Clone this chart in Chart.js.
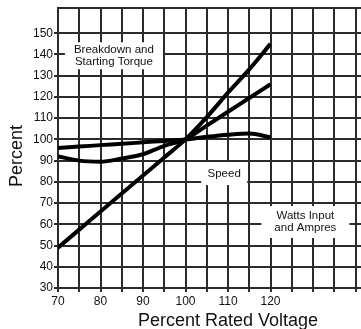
<!DOCTYPE html>
<html>
<head>
<meta charset="utf-8">
<script src="https://cdn.jsdelivr.net/npm/chart.js@4/dist/chart.umd.min.js"></script>
<style>
  html, body { margin: 0; padding: 0; overflow: hidden; background: #fff; }
  canvas { display: block; }
</style>
</head>
<body>
<canvas id="motorChart" width="400" height="335"></canvas>
<script>
// percent rated voltage (x) and each curve's percent value
const voltage = [70, 75, 80, 85, 90, 95, 100, 105, 110, 115, 120];
const torquePct = [49, 57.5, 66, 74.5, 83, 91.5, 100, 110.5, 122, 133, 145];
const wattsAmpsPct = [92, 90, 89.5, 91, 93, 97, 100, 106.5, 113, 119.5, 126];
const speedPct = [96, 96.6, 97.3, 97.9, 98.6, 99.3, 100, 101.2, 102.2, 102.8, 101];

const xGridLines = [70, 75, 80, 85, 90, 95, 100, 105, 110, 115, 120, 125, 130, 135, 140, 145, 150];
const xTickLabels = [70, 80, 90, 100, 110, 120];
const yTickLabels = [30, 40, 50, 60, 70, 80, 90, 100, 110, 120, 130, 140, 150];
const yTop = 161.8;

const notes = [
    { lines: ['Breakdown and', 'Starting Torque'], x: 83.15, y: 139.4, w: 98, h: 27 },
    { lines: ['Speed'], x: 109.1, y: 83.9, w: 46, h: 23 },
    { lines: ['Watts Input', 'and Ampres'], x: 128.2, y: 61.1, w: 88, h: 32 },
];

const FONT = '"Liberation Sans", Arial, sans-serif';
const gridColor = '#2b2b2b';

function series(values) {
    return voltage.map((v, i) => ({ x: v, y: values[i] }));
}

function lineSet(label, values) {
    return {
        label,
        data: series(values),
        borderColor: '#000',
        borderWidth: 4,
        pointRadius: 0,
        cubicInterpolationMode: 'monotone',
        fill: false,
    };
}

const notePlugin = {
    id: 'notes',
    beforeDatasetsDraw(chart) {
        const { ctx, scales: { x, y } } = chart;
        ctx.save();
        ctx.font = '11.5px ' + FONT;
        ctx.textAlign = 'center';
        ctx.textBaseline = 'middle';
        notes.forEach(n => {
            const cx = x.getPixelForValue(n.x);
            const cy = y.getPixelForValue(n.y);
            ctx.fillStyle = '#fff';
            ctx.fillRect(cx - n.w / 2, cy - n.h / 2, n.w, n.h);
            ctx.fillStyle = '#111';
            n.lines.forEach((t, i) => {
                ctx.fillText(t, cx, cy + (i - (n.lines.length - 1) / 2) * 12.5);
            });
        });
        ctx.restore();
    },
    afterDraw(chart) {
        // y axis title, a bit below the middle as in the print
        const { ctx } = chart;
        ctx.save();
        ctx.font = '18px ' + FONT;
        ctx.fillStyle = '#111';
        ctx.textAlign = 'center';
        ctx.textBaseline = 'alphabetic';
        ctx.translate(22, 156);
        ctx.rotate(-Math.PI / 2);
        ctx.fillText('Percent', 0, 0);
        ctx.restore();
    }
};

new Chart(document.getElementById('motorChart').getContext('2d'), {
    type: 'line',
    data: {
        datasets: [
            lineSet('Breakdown and Starting Torque', torquePct),
            lineSet('Watts Input and Ampres', wattsAmpsPct),
            lineSet('Speed', speedPct),
        ]
    },
    options: {
        responsive: false,
        animation: false,
        devicePixelRatio: 1,
        layout: { padding: { top: 8, right: 1, left: 0, bottom: 0 } },
        plugins: {
            legend: { display: false },
            tooltip: { enabled: false },
        },
        scales: {
            x: {
                type: 'linear',
                min: 70,
                max: 150,
                afterBuildTicks: s => { s.ticks = xGridLines.map(v => ({ value: v })); },
                afterFit: s => { s.height = 47; },
                ticks: {
                    autoSkip: false,
                    maxRotation: 0,
                    padding: 2,
                    color: '#111',
                    font: { family: FONT, size: 12 },
                    callback: v => xTickLabels.includes(v) ? String(v) : '',
                },
                grid: { color: gridColor, lineWidth: 2, tickLength: 4 },
                border: { color: gridColor, width: 2 },
                title: {
                    display: true,
                    text: 'Percent Rated Voltage',
                    color: '#111',
                    font: { family: FONT, size: 18 },
                    padding: { top: 0, bottom: 3 },
                },
            },
            y: {
                min: 30,
                max: yTop,
                afterBuildTicks: s => {
                    s.ticks = yTickLabels.map(v => ({ value: v })).concat([{ value: yTop }]);
                },
                afterFit: s => { s.width = 58; },
                ticks: {
                    autoSkip: false,
                    padding: 1,
                    color: '#111',
                    font: { family: FONT, size: 12 },
                    callback: v => yTickLabels.includes(v) ? String(v) : '',
                },
                grid: {
                    color: gridColor,
                    lineWidth: 2,
                    tickLength: 4,
                    tickColor: c => (c.tick && c.tick.value === yTop) ? 'rgba(0,0,0,0)' : gridColor,
                },
                border: { color: gridColor, width: 2 },
            }
        }
    },
    plugins: [notePlugin]
});
</script>
</body>
</html>
